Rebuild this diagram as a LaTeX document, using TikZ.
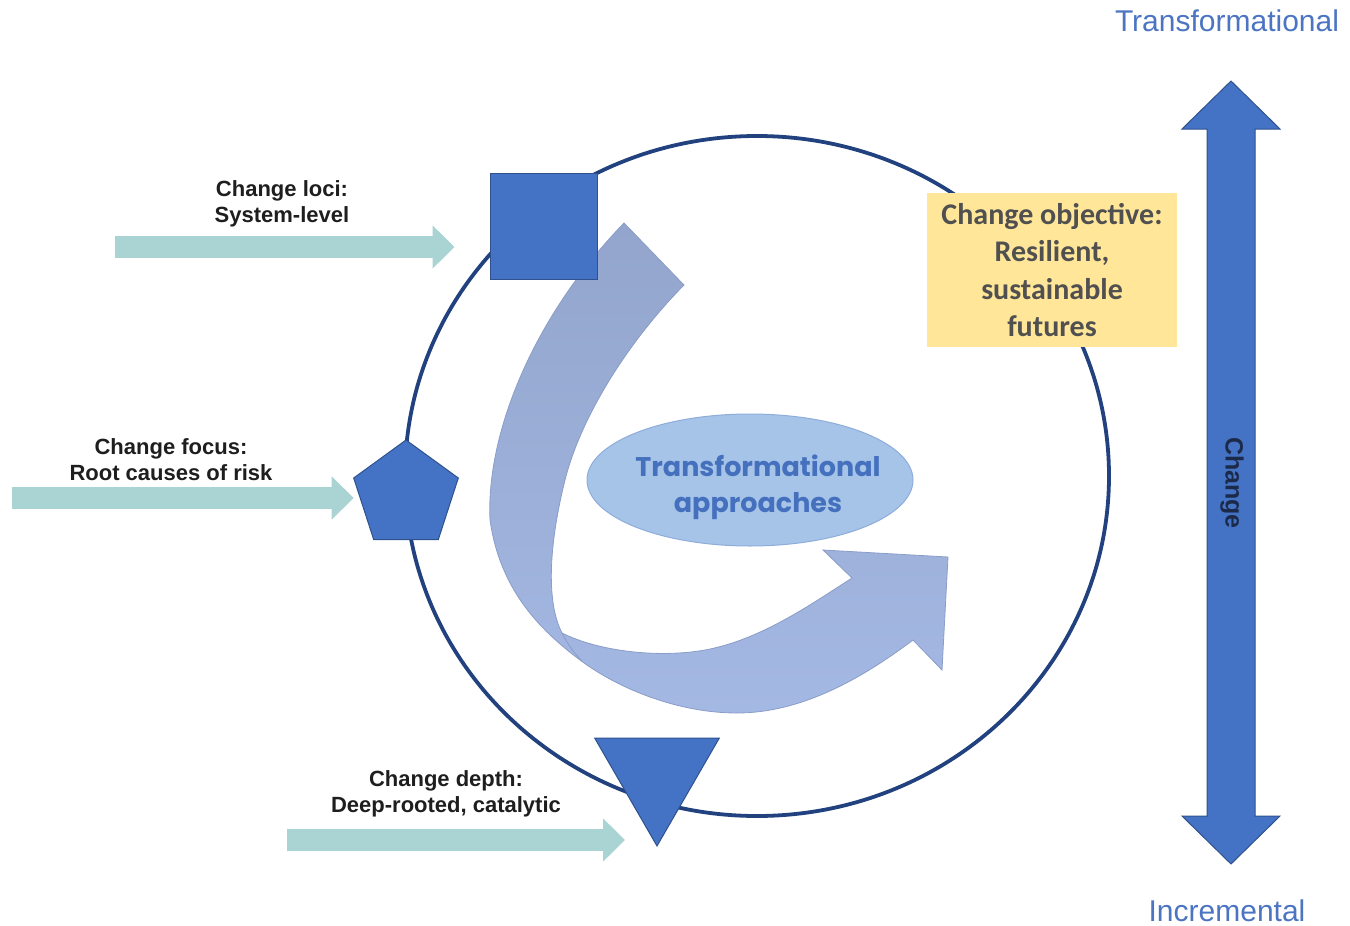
\documentclass[tikz,border=0pt]{standalone}
\usepackage{fontspec}
\setmainfont{Liberation Sans}
\newfontfamily\calib{Carlito}
\newfontfamily\popp{Poppins}
\usetikzlibrary{shapes.geometric,arrows.meta}
\definecolor{blueA}{HTML}{4472C4}
\definecolor{blueB}{HTML}{2F528F}
\definecolor{ringC}{HTML}{22427F}
\definecolor{tealA}{HTML}{A9D4D3}
\definecolor{yellA}{HTML}{FFE699}
\definecolor{ytext}{HTML}{505050}
\definecolor{lblC}{HTML}{1E1E1E}
\definecolor{ellF}{HTML}{A6C3E8}
\definecolor{ellD}{HTML}{8EADDA}
\definecolor{ellT}{HTML}{4470BE}
\definecolor{scaleT}{HTML}{4B74C2}
\definecolor{chgT}{HTML}{1C2A4A}
\definecolor{curvTop}{HTML}{93A5CC}
\definecolor{curvBot}{HTML}{A3B8E3}
\definecolor{curvD}{HTML}{8A9DC8}
\begin{document}
\begin{tikzpicture}[x=1pt,y=-1pt,
  shapeblue/.style={fill=blueA, draw=blueB, line width=1pt, inner sep=0pt},
  tealarrow/.style={line width=22pt, draw=tealA, -{Triangle[length=22pt,width=42pt]}},
  lbl/.style={font=\bfseries\fontsize{22}{26}\selectfont, align=center, text=lblC, inner sep=0pt},
  scalelbl/.style={font=\fontsize{30}{34}\selectfont, text=scaleT, inner sep=0pt}
]
\useasboundingbox (0,0) rectangle (1350,926);

% ring
\draw[ringC, line width=3.8pt] (757,476) ellipse [x radius=352, y radius=340];

% curved arrow
\path[draw=curvD, line width=0.8pt, top color=curvTop, bottom color=curvBot]
  (624,223) -- (684,285)
  .. controls (625,345) and (580,420) .. (565,480)
  .. controls (550,540) and (545,600) .. (562,633)
  .. controls (600,652) and (660,658) .. (705,650)
  .. controls (760,640) and (810,605) .. (852,578)
  -- (823,550) -- (948,557) -- (942,670) -- (913,640)
  .. controls (860,680) and (800,713) .. (737,713)
  .. controls (680,713) and (620,690) .. (580,660)
  .. controls (540,630) and (500,590) .. (490,520)
  .. controls (486,435) and (532,318) .. (624,223) -- cycle;
\draw[curvD, line width=0.8pt] (562,633) .. controls (568,645) and (575,654) .. (582,661);

% central ellipse
\node[ellipse, fill=ellF, draw=ellD, line width=1pt, minimum width=326pt, minimum height=132pt, inner sep=0pt] (ta) at (750,480) {};
\node[font=\popp\bfseries\fontsize{27}{36}\selectfont, text=ellT, align=center, inner sep=0pt] (tatext) at (758,487)
      {Transformational\\approaches};

% blue shapes on ring
\node[shapeblue, rectangle, minimum width=107pt, minimum height=106pt] (sq) at (543.5,226) {};
\node[shapeblue, regular polygon, regular polygon sides=5, minimum size=110pt] (pent) at (406,495) {};
\node[shapeblue, regular polygon, regular polygon sides=3, shape border rotate=180, minimum size=144pt] (tri) at (657,774) {};

% objective box
\node[rectangle, fill=yellA, minimum width=250pt, minimum height=154pt, inner sep=0pt,
      font=\calib\bfseries\fontsize{30}{37.5}\selectfont, text=ytext, align=center] (obj) at (1052,270)
      {Change objective:\\Resilient,\\sustainable\\futures};

% incoming arrows
\coordinate (s1) at (115,247);
\coordinate (s2) at (12,498);
\coordinate (s3) at (287,840);
\draw[tealarrow, shorten >=35pt] (s1) -- (s1 -| sq.west);
\draw[tealarrow, shorten >=5pt] (s2) -- (s2 -| pent.west);
\draw[tealarrow, shorten >=32pt] (s3) -- (s3 -| tri.south);

% labels
\node[lbl] (l1) at (282,204) {Change loci:\\System-level};
\node[lbl] (l2) at (171,460) {Change focus:\\Root causes of risk};
\node[lbl] (l3) at (446,794) {Change depth:\\Deep-rooted, catalytic};

% change scale
\path[fill=blueA, draw=blueB, line width=1pt]
  (1231,81) -- (1280,129) -- (1255,129) -- (1255,816) -- (1280,816) -- (1231,864)
  -- (1182,816) -- (1207,816) -- (1207,129) -- (1182,129) -- cycle;
\node[font=\bfseries\fontsize{25}{28}\selectfont, text=chgT, rotate=-90, inner sep=0pt] (chg) at (1232,483) {Change};
\node[scalelbl] (tr) at (1227,21) {Transformational};
\node[scalelbl] (inc) at (1227,911) {Incremental};
\end{tikzpicture}
\end{document}
